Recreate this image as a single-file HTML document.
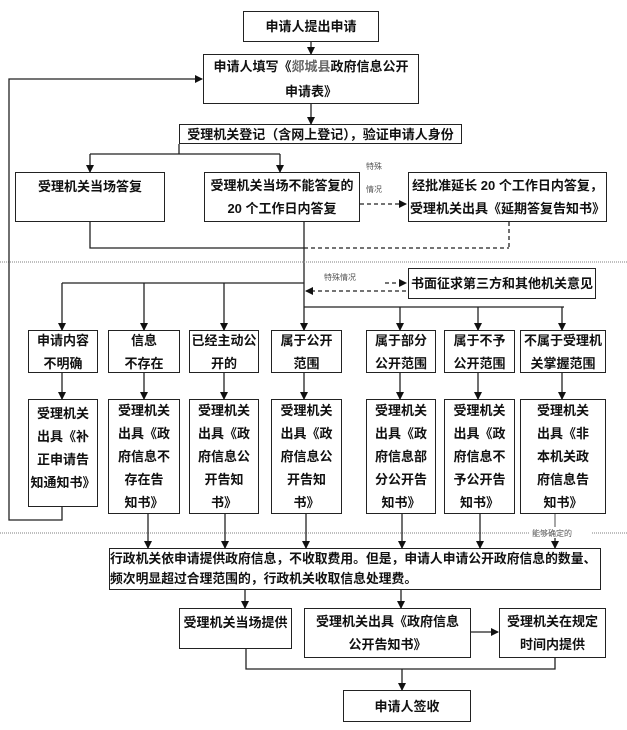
<!DOCTYPE html>
<html><head><meta charset="utf-8"><style>
body{margin:0;background:#fff;}
#c{position:relative;width:627px;height:730px;overflow:hidden;font-family:"Liberation Sans","Noto Sans CJK SC",sans-serif;font-weight:bold;color:#111;}
.b{position:absolute;border:1.5px solid #222;box-sizing:border-box;background:#fff;display:flex;flex-direction:column;align-items:center;justify-content:center;text-align:center;font-size:13px;line-height:23px;}
.t{position:absolute;font-size:8px;color:#555;font-weight:normal;white-space:nowrap;}
svg{position:absolute;left:0;top:0;}
</style></head><body><div id="c">
<svg width="627" height="730">
<defs><marker id="a" markerWidth="8" markerHeight="8" refX="7" refY="4" orient="auto" markerUnits="userSpaceOnUse"><path d="M0,0L8,4L0,8z" fill="#111"/></marker></defs>
<g stroke="#222" stroke-width="1.3" fill="none">
<line x1="311" y1="42" x2="311" y2="54" marker-end="url(#a)"/>
<line x1="311" y1="104" x2="311" y2="124" marker-end="url(#a)"/>
<polyline points="179,144 179,154"/>
<line x1="90" y1="154" x2="280" y2="154"/>
<line x1="90" y1="154" x2="90" y2="172" marker-end="url(#a)"/>
<line x1="280" y1="154" x2="280" y2="172" marker-end="url(#a)"/>
<line x1="360" y1="204" x2="406" y2="204" stroke-dasharray="4,3" marker-end="url(#a)"/>
<polyline points="90,222 90,248 304,248"/>
<line x1="304" y1="248" x2="509" y2="248" stroke-dasharray="4,3"/>
<line x1="509" y1="222" x2="509" y2="248" stroke-dasharray="4,3"/>
<line x1="304" y1="222" x2="304" y2="330" marker-end="url(#a)"/>
<line x1="0" y1="262" x2="627" y2="262" stroke="#999" stroke-dasharray="1,1"/>
<line x1="62" y1="283" x2="304" y2="283"/>
<line x1="385" y1="283" x2="406" y2="283" stroke-dasharray="4,3" marker-end="url(#a)"/>
<line x1="406" y1="291" x2="306" y2="291" stroke-dasharray="4,3" marker-end="url(#a)"/>
<line x1="304" y1="307" x2="564" y2="307"/>
<line x1="62" y1="283" x2="62" y2="330" marker-end="url(#a)"/>
<line x1="144" y1="283" x2="144" y2="330" marker-end="url(#a)"/>
<line x1="224" y1="283" x2="224" y2="330" marker-end="url(#a)"/>
<line x1="400" y1="307" x2="400" y2="330" marker-end="url(#a)"/>
<line x1="478" y1="307" x2="478" y2="330" marker-end="url(#a)"/>
<line x1="562" y1="307" x2="562" y2="330" marker-end="url(#a)"/>
<line x1="62" y1="373" x2="62" y2="399" marker-end="url(#a)"/>
<line x1="144" y1="373" x2="144" y2="399" marker-end="url(#a)"/>
<line x1="224" y1="373" x2="224" y2="399" marker-end="url(#a)"/>
<line x1="304" y1="373" x2="304" y2="399" marker-end="url(#a)"/>
<line x1="400" y1="373" x2="400" y2="399" marker-end="url(#a)"/>
<line x1="478" y1="373" x2="478" y2="399" marker-end="url(#a)"/>
<line x1="562" y1="373" x2="562" y2="399" marker-end="url(#a)"/>
<polyline points="62,507 62,520 9,520 9,79 202,79" marker-end="url(#a)"/>
<line x1="0" y1="533" x2="530" y2="533" stroke="#999" stroke-dasharray="1,1"/>
<line x1="592" y1="533" x2="627" y2="533" stroke="#999" stroke-dasharray="1,1"/>
<line x1="148" y1="514" x2="148" y2="548" marker-end="url(#a)"/>
<line x1="225" y1="514" x2="225" y2="548" marker-end="url(#a)"/>
<line x1="306" y1="514" x2="306" y2="548" marker-end="url(#a)"/>
<line x1="402" y1="514" x2="402" y2="548" marker-end="url(#a)"/>
<line x1="480" y1="514" x2="480" y2="548" marker-end="url(#a)"/>
<line x1="555" y1="514" x2="555" y2="527" stroke="#777"/>
<line x1="555" y1="538" x2="555" y2="548" marker-end="url(#a)"/>
<line x1="245" y1="590" x2="245" y2="608" marker-end="url(#a)"/>
<line x1="401" y1="590" x2="401" y2="608" marker-end="url(#a)"/>
<line x1="471" y1="632" x2="498" y2="632" marker-end="url(#a)"/>
<polyline points="246,649 246,669 555,669 555,658"/>
<line x1="402" y1="669" x2="402" y2="690" marker-end="url(#a)"/>
</g></svg>
<div class="b" style="left:243px;top:11px;width:136px;height:31px;">申请人提出申请</div>
<div class="b" style="left:203px;top:54px;width:216px;height:50px;line-height:25px;"><div>申请人填写《<span style="color:#666">郯城县</span>政府信息公开</div><div>申请表》</div></div>
<div class="b" style="left:179px;top:124px;width:283px;height:20px;font-size:13px;white-space:nowrap;">受理机关登记（含网上登记），验证申请人身份</div>
<div class="b" style="left:15px;top:172px;width:150px;height:50px;justify-content:flex-start;padding-top:2px;">受理机关当场答复</div>
<div class="b" style="left:204px;top:172px;width:156px;height:50px;line-height:23px;">受理机关当场不能答复的<br>20 个工作日内答复</div>
<div class="b" style="left:408px;top:172px;width:199px;height:50px;line-height:23px;white-space:nowrap;">经批准延长 20 个工作日内答复，<br>受理机关出具《延期答复告知书》</div>
<div class="t" style="left:366px;top:161px;">特殊</div>
<div class="t" style="left:366px;top:184px;">情况</div>
<div class="t" style="left:324px;top:272px;">特殊情况</div>
<div class="b" style="left:408px;top:268px;width:188px;height:31px;white-space:nowrap;">书面征求第三方和其他机关意见</div>
<div class="b" style="left:28px;top:330px;width:70px;height:43px;">申请内容<br>不明确</div>
<div class="b" style="left:108px;top:330px;width:72px;height:43px;">信息<br>不存在</div>
<div class="b" style="left:189px;top:330px;width:70px;height:43px;">已经主动公<br>开的</div>
<div class="b" style="left:271px;top:330px;width:71px;height:43px;">属于公开<br>范围</div>
<div class="b" style="left:366px;top:330px;width:70px;height:43px;">属于部分<br>公开范围</div>
<div class="b" style="left:444px;top:330px;width:71px;height:43px;">属于不予<br>公开范围</div>
<div class="b" style="left:520px;top:330px;width:86px;height:43px;">不属于受理机<br>关掌握范围</div>
<div class="b" style="left:28px;top:399px;width:70px;height:108px;justify-content:flex-start;padding-top:2px;">受理机关<br>出具《补<br>正申请告<br>知通知书》</div>
<div class="b" style="left:108px;top:399px;width:72px;height:115px;">受理机关<br>出具《政<br>府信息不<br>存在告<br>知书》</div>
<div class="b" style="left:189px;top:399px;width:70px;height:115px;">受理机关<br>出具《政<br>府信息公<br>开告知<br>书》</div>
<div class="b" style="left:271px;top:399px;width:71px;height:115px;">受理机关<br>出具《政<br>府信息公<br>开告知<br>书》</div>
<div class="b" style="left:366px;top:399px;width:70px;height:115px;">受理机关<br>出具《政<br>府信息部<br>分公开告<br>知书》</div>
<div class="b" style="left:444px;top:399px;width:71px;height:115px;">受理机关<br>出具《政<br>府信息不<br>予公开告<br>知书》</div>
<div class="b" style="left:520px;top:399px;width:86px;height:115px;">受理机关<br>出具《非<br>本机关政<br>府信息告<br>知书》</div>
<div class="t" style="left:532px;top:528px;">能够确定的</div>
<div class="b" style="left:109px;top:548px;width:492px;height:42px;align-items:flex-start;text-align:left;line-height:20px;white-space:nowrap;font-size:12.8px;"><div>行政机关依申请提供政府信息，不收取费用。但是，申请人申请公开政府信息的数量、</div><div>频次明显超过合理范围的，行政机关收取信息处理费。</div></div>
<div class="b" style="left:179px;top:608px;width:113px;height:41px;justify-content:flex-start;padding-top:2px;">受理机关当场提供</div>
<div class="b" style="left:304px;top:608px;width:167px;height:50px;">受理机关出具《政府信息<br>公开告知书》</div>
<div class="b" style="left:499px;top:608px;width:107px;height:50px;">受理机关在规定<br>时间内提供</div>
<div class="b" style="left:343px;top:690px;width:128px;height:32px;">申请人签收</div>
</div></body></html>
